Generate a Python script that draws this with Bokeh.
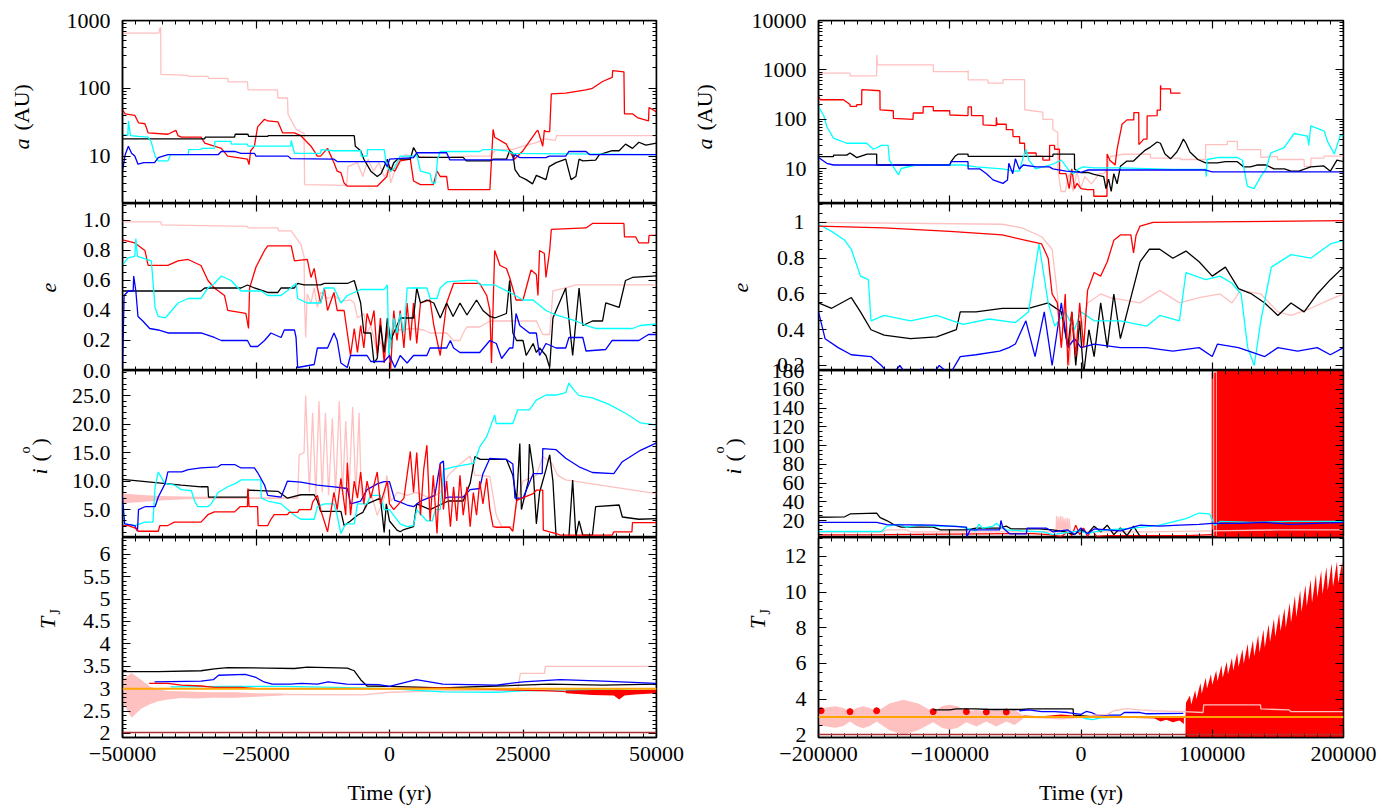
import math
from bokeh.plotting import figure
from bokeh.layouts import row, column
from bokeh.models import (Range1d, LinearAxis, LogAxis, FixedTicker, CustomJSTickFormatter, Span)
from bokeh.core.properties import value
from bokeh.embed import file_html
from bokeh.resources import INLINE

FONT = "Liberation Serif"
FS = "22px"
C = {"black": "#000000", "blue": "#0000ff", "cyan": "#00ffff", "red": "#ff0000", "pink": "#ffc0c0"}

# ---------------- LEFT COLUMN DATA (time in yr) ----------------
L_a_pink = [(-50000,650),(-43200,650),(-43000,780),(-42850,780),(-42800,160),(-37700,155),(-37600,150),(-34000,150),(-33900,140),(-30300,140),(-30200,124),(-26600,124),(-26500,95),(-21000,95),(-20900,72),(-19100,72),(-19000,41),(-17500,25),(-16300,22),(-16000,22),(-15900,3.8),(-8000,3.7),(-7800,7),(-6000,8),(-5000,5),(-4000,9),(-3000,6),(-2000,8),(-1000,5),(0,6),(200,4),(1500,8),(3000,10.5),(4500,10),(10000,9.5),(15000,10),(18800,10),(20000,12.5),(23100,12.6),(25000,14),(27500,15.8),(29000,18),(31000,17),(31300,20),(40000,20),(50000,20)]
L_a_red = [(-50000,48),(-49500,42),(-47700,40),(-47000,31),(-45800,30),(-45200,22),(-41500,21),(-40000,24),(-39600,20),(-39000,19),(-35300,19),(-34600,15.5),(-32800,14),(-31500,13),(-30300,10),(-26600,9),(-26300,7.5),(-26000,12),(-25300,14),(-24700,27),(-23400,35),(-22800,33),(-20900,32),(-20000,22),(-17800,22),(-16600,20),(-14700,14),(-13500,10),(-12900,10),(-11600,13),(-10400,8),(-9800,6),(-9100,5.7),(-8500,4),(-7900,3.6),(-2300,3.6),(-500,5),(-100,7),(1000,6),(2000,8.5),(3900,9),(4500,4.3),(5800,3.8),(8200,3.8),(8900,6),(9500,5),(10700,5),(11000,3.2),(18800,3.2),(19400,24.7),(19700,19),(21900,15),(23100,9.6),(23400,9),(25000,12),(27500,23),(27800,24),(28700,14),(29000,24),(29300,23),(30000,23),(30300,83),(33000,85),(36800,95),(38000,100),(39900,126),(41700,145),(41800,182),(43900,175),(44000,42),(45500,42),(46400,37),(48500,33),(48600,52),(50000,45)]
L_a_black = [(-50000,18),(-34600,18),(-34500,19),(-29000,19),(-28900,21),(-26500,21),(-26400,19.5),(-22800,19.5),(-22700,20),(-7000,20),(-6600,20),(-6400,14),(-5400,12),(-4800,9),(-3500,6),(-2300,5),(-1600,5.5),(-1000,7),(-400,9),(200,6),(800,8),(1500,9),(3900,9),(4500,13.4),(5100,11),(5500,9.6),(13800,9.6),(14400,8.5),(18800,8.5),(19500,9),(21900,9),(22500,12),(23100,11),(23500,6.3),(24400,5),(25600,4.5),(26800,3.9),(27500,5.2),(29300,4.5),(29900,7),(31200,8),(33000,9),(34000,4.5),(34900,5),(35500,9),(36200,8.5),(38600,8.7),(39300,10.5),(41700,12),(43000,12),(44200,15),(45500,13),(46700,16),(48000,14.5),(50000,15.5)]
L_a_cyan = [(-50000,21),(-49000,20),(-48900,33),(-48500,20),(-47000,19.5),(-45200,19),(-44600,16),(-43900,10),(-43300,8.5),(-41500,8.5),(-41000,10.5),(-37700,10.5),(-37600,12.5),(-35300,12.6),(-35200,13),(-32800,13),(-32700,16.5),(-29700,16.5),(-29600,15),(-26600,15),(-26500,14),(-22800,14),(-18500,14),(-18400,17),(-17800,11),(-15400,11),(-12900,11),(-12800,12.5),(-10400,12),(-5400,12),(-5300,10),(-4200,10),(-4100,12.5),(-1000,12.5),(-500,7),(200,6),(800,6.5),(1400,8),(2000,10),(4500,10),(5100,10.5),(5800,6),(7600,5.5),(8000,4),(8600,4),(9000,9),(9500,11.7),(16900,11.7),(17500,12.5),(19400,12.5),(21900,12),(23100,11),(50000,10.5)]
L_a_blue = [(-50000,6),(-49500,10.5),(-48900,14),(-48300,11),(-47700,10),(-47100,7.6),(-46000,8),(-44000,8),(-43300,9.5),(-41500,10.5),(-32100,10.5),(-31500,11.7),(-29000,11.7),(-27800,11),(-25300,11),(-25000,10),(-19000,10),(-18500,9.2),(-10400,9),(-9800,8.3),(-1000,8.3),(-400,7),(0,9),(4500,9.5),(5100,11.2),(10700,11.2),(11300,8.8),(23100,8.8),(23500,10.5),(24400,9.5),(29300,9.5),(29900,10),(33000,10),(33600,11.7),(36800,11.7),(37500,10.5),(50000,10.5)]

L_e_pink = [(-50000,0.99),(-42800,0.99),(-42700,0.97),(-26600,0.96),(-26500,0.95),(-20900,0.95),(-20800,0.93),(-18400,0.93),(-17800,0.9),(-16600,0.84),(-16000,0.76),(-15900,0.45),(-15700,0.22),(-15400,0.51),(-14700,0.45),(-14100,0.55),(-13500,0.42),(-12900,0.52),(-11600,0.48),(-10400,0.5),(-9000,0.46),(-7300,0.47),(-6600,0.45),(-6000,0.35),(-4800,0.38),(-4200,0.25),(-3500,0.3),(-2300,0.12),(-1700,0.2),(-1000,0.1),(-400,0.25),(200,0.15),(800,0.3),(1500,0.27),(4500,0.28),(6400,0.27),(7600,0.25),(10700,0.25),(12000,0.2),(13200,0.2),(13800,0.25),(14500,0.29),(16900,0.29),(18800,0.33),(25600,0.33),(27500,0.33),(28700,0.24),(30000,0.24),(30600,0.53),(33000,0.55),(34900,0.57),(50000,0.57)]
L_e_red = [(-50000,0.87),(-47700,0.85),(-45800,0.8),(-45200,0.7),(-41500,0.7),(-39600,0.73),(-37700,0.74),(-35300,0.7),(-34000,0.6),(-32800,0.55),(-30900,0.5),(-30300,0.4),(-26900,0.38),(-26400,0.28),(-26200,0.55),(-25000,0.69),(-23400,0.8),(-22800,0.83),(-18400,0.83),(-17800,0.73),(-15400,0.74),(-14700,0.62),(-14100,0.68),(-13500,0.55),(-12900,0.45),(-12200,0.55),(-11600,0.4),(-10400,0.52),(-9800,0.4),(-8500,0.4),(-7300,0.1),(-6600,0.28),(-6000,0.12),(-5400,0.3),(-4800,0.15),(-4200,0.38),(-3500,0.3),(-2900,0.4),(-2300,0.1),(-1700,0.35),(-1000,0.05),(-400,0.3),(200,0.0),(800,0.4),(1400,0.2),(2000,0.4),(2700,0.15),(3300,0.45),(3900,0.2),(4500,0.45),(5100,0.18),(5800,0.45),(7600,0.47),(8300,0.3),(9500,0.1),(10700,0.45),(12000,0.58),(16900,0.58),(18200,0.5),(18800,0.4),(19100,0.05),(19700,0.8),(20700,0.7),(21900,0.68),(22500,0.62),(23700,0.47),(25000,0.47),(25600,0.55),(26500,0.67),(27500,0.64),(27800,0.5),(28100,0.8),(29000,0.78),(29300,0.62),(30000,0.8),(30300,0.94),(36800,0.95),(38000,0.98),(43900,0.98),(44000,0.89),(46100,0.89),(46700,0.85),(48500,0.85),(48600,0.9),(50000,0.9)]
L_e_black = [(-50000,0.53),(-35300,0.53),(-34600,0.55),(-27800,0.55),(-26600,0.57),(-25300,0.55),(-22800,0.52),(-20900,0.52),(-20300,0.55),(-17800,0.55),(-17200,0.58),(-16000,0.57),(-12900,0.57),(-12200,0.58),(-7900,0.58),(-6600,0.6),(-5400,0.45),(-4800,0.25),(-3500,0.25),(-2900,0.05),(-2300,0.08),(-1700,0.3),(-1000,0.12),(-400,0.35),(200,0.2),(1400,0.3),(2000,0.35),(4500,0.35),(5100,0.55),(5800,0.45),(7000,0.47),(8300,0.45),(9500,0.35),(10700,0.45),(11900,0.36),(13200,0.45),(14500,0.37),(16300,0.47),(17500,0.4),(18800,0.36),(19700,0.35),(21900,0.38),(22500,0.6),(23100,0.25),(23800,0.2),(25000,0.2),(25600,0.1),(26900,0.18),(27500,0.12),(28100,0.15),(29300,0.1),(30000,0.02),(30600,0.35),(31800,0.45),(33000,0.55),(34300,0.1),(35500,0.55),(36200,0.3),(38000,0.33),(39900,0.33),(40500,0.45),(43000,0.42),(44200,0.6),(45500,0.62),(50000,0.63)]
L_e_cyan = [(-50000,0.7),(-49000,0.75),(-47700,0.76),(-47500,0.88),(-47200,0.76),(-44600,0.73),(-43900,0.42),(-43300,0.36),(-42000,0.35),(-41500,0.37),(-39600,0.45),(-37700,0.48),(-35300,0.48),(-34000,0.55),(-32800,0.58),(-31500,0.63),(-29700,0.6),(-27800,0.53),(-24000,0.53),(-22800,0.5),(-20300,0.5),(-18500,0.55),(-17500,0.58),(-17200,0.48),(-15400,0.45),(-12900,0.45),(-12200,0.55),(-10400,0.55),(-9100,0.45),(-7900,0.5),(-6600,0.52),(-5400,0.54),(-1000,0.54),(-400,0.57),(-100,0.1),(200,0.2),(800,0.35),(1400,0.25),(2000,0.38),(2700,0.25),(3300,0.55),(7000,0.55),(7600,0.48),(8900,0.48),(9500,0.55),(10700,0.59),(14500,0.6),(16300,0.6),(16900,0.57),(19700,0.57),(23100,0.51),(25000,0.47),(26900,0.47),(29300,0.4),(31200,0.37),(33000,0.35),(34900,0.33),(36800,0.3),(38600,0.28),(45500,0.28),(47000,0.3),(50000,0.31)]
L_e_blue = [(-50000,0.0),(-49700,0.5),(-48900,0.53),(-48000,0.53),(-47900,0.63),(-47500,0.53),(-47100,0.36),(-46200,0.33),(-44900,0.28),(-43300,0.27),(-41500,0.25),(-35300,0.25),(-32800,0.22),(-31500,0.2),(-26600,0.2),(-26000,0.16),(-24700,0.16),(-23400,0.2),(-22200,0.25),(-20300,0.22),(-19700,0.27),(-17800,0.27),(-17500,0.22),(-17200,0.02),(-14100,0.04),(-13500,0.15),(-11600,0.15),(-10400,0.25),(-9800,0.2),(-9100,0.05),(-7900,0.02),(-7300,0.1),(-4200,0.1),(-3500,0.06),(-1000,0.06),(0,0.1),(1000,0.02),(2000,0.1),(3300,0.05),(4500,0.1),(7000,0.1),(7600,0.15),(10700,0.15),(11400,0.2),(12000,0.15),(13200,0.12),(16900,0.12),(18800,0.2),(20000,0.18),(21000,0.08),(22500,0.15),(23100,0.15),(23700,0.38),(24400,0.3),(26200,0.25),(27500,0.25),(28100,0.1),(29300,0.18),(31200,0.15),(33000,0.15),(33600,0.22),(36200,0.22),(36800,0.13),(40500,0.14),(41700,0.2),(46700,0.2),(48500,0.24),(50000,0.24)]

L_i_pink_band_t = [-50000, -47000, -43000, -38000, -30000, -24000, -17200]
L_i_pink_band_hi = [7.8, 7.6, 7.4, 7.3, 7.2, 7.1, 7.1]
L_i_pink_band_lo = [6.1, 6.3, 6.6, 6.8, 6.9, 6.9, 6.95]
L_i_pink = [(-50000,7),(-17200,7),(-16900,14.6),(-16000,15),(-15700,25),(-15000,8),(-14400,22),(-13800,7.5),(-13200,24),(-12600,8),(-12000,22),(-11400,7.5),(-10700,21),(-10100,8),(-9400,24),(-8800,7.5),(-8200,20.5),(-7600,8),(-6900,23),(-6300,7.5),(-5700,22),(-5300,8),(-4500,5),(-3500,8),(-2300,4),(-1000,7),(-500,11),(300,6.5),(1500,8),(3300,7.5),(5000,8),(7600,7),(9500,8),(11000,11),(13200,13),(15100,14.4),(16000,11),(17000,11),(18800,10.8),(20000,4),(21000,2),(23100,2),(23800,6),(25000,10),(27500,11),(28700,14.3),(30500,13),(31500,11),(33000,10.2),(50000,7.8)]
L_i_red = [(-50000,2.2),(-48900,2.2),(-47700,1.8),(-47000,1.2),(-43300,1.2),(-43000,2.2),(-41500,2.2),(-40300,2.8),(-35300,2.8),(-34000,4.1),(-32800,4.6),(-29000,4.6),(-28000,5.5),(-26600,5.5),(-26500,8.7),(-26300,5.5),(-24700,5.5),(-24600,2.2),(-22800,2.2),(-22200,3.3),(-21600,4.1),(-19100,4.1),(-18800,4.5),(-17200,4.5),(-16900,5),(-14700,5),(-14400,6.3),(-13500,7.5),(-12900,5),(-11600,1.1),(-10400,8),(-9800,5),(-9100,10.5),(-8200,4),(-7900,13.2),(-7300,4),(-6600,10),(-6000,7),(-5400,11.6),(-4800,6),(-4200,10),(-3500,7),(-2300,11.6),(-1700,6),(-400,10),(0,6),(800,5),(2700,7),(3900,15.2),(4500,8),(5100,15),(5800,4),(6400,12),(7000,16.3),(7600,3),(8200,11),(8900,0.8),(9500,13),(10100,5),(10700,10),(11400,2),(12000,9),(12600,3),(13200,11),(13800,4),(14500,9),(15100,2),(15700,8),(16300,4),(16900,10),(17500,6),(18200,10.5),(18800,5),(19400,2),(20000,1.9),(22500,1.9),(23100,1.2),(23800,6.6),(26900,7.8),(27500,8.4),(28700,8.4),(28800,1.4),(31200,0.8),(32000,0.5),(41700,0.5),(42000,1.1),(45400,1.1),(45500,2.7),(50000,2.7)]
L_i_black = [(-50000,10.3),(-39000,9.3),(-35300,9),(-34000,9),(-33900,7.2),(-26600,7.2),(-26500,8.4),(-20900,8.2),(-19100,7),(-16600,7.6),(-14100,7.6),(-13500,6.5),(-12900,4.7),(-9100,4.7),(-8500,2.2),(-7300,3),(-6000,4),(-5000,4.5),(-4200,6),(-1700,7),(-1000,1),(-600,6),(0,3),(1400,1.4),(2000,1.1),(2700,1.5),(4500,2),(5100,6),(7600,5),(11000,6.5),(13800,6.5),(15100,9.6),(16000,14.3),(17000,13.8),(21900,13.8),(23100,11),(23800,6.5),(24400,16.6),(24700,5),(26000,10),(26200,16.5),(26900,12),(27500,2.5),(28100,8),(29300,12),(30000,14.6),(30600,10),(31200,0.2),(33600,0.3),(34300,10.2),(34900,0.3),(35500,3),(36200,0.5),(38000,0.5),(38600,5.5),(43000,5.8),(43600,3.7),(46700,3.3),(50000,3.4)]
L_i_cyan = [(-50000,6),(-49600,2.5),(-47700,2.2),(-45800,2.8),(-44300,2.8),(-43900,9),(-43300,11.6),(-42100,9.6),(-40300,9.3),(-39000,8.5),(-37100,8.3),(-36500,6.5),(-35900,5.5),(-34000,5.5),(-33400,6),(-32100,8),(-30300,9),(-29000,9.5),(-27800,10.2),(-24100,10.2),(-24000,7),(-22800,6.5),(-20300,6),(-17800,4),(-16600,3.3),(-14100,3.3),(-13500,5.5),(-12200,6),(-10400,6),(-9800,4),(-9100,0.8),(-8200,2.5),(-6600,2.5),(-6000,6),(-4200,6),(-3500,7.5),(-1700,7.5),(-1000,5),(0,5),(800,4),(2000,2.5),(3300,2),(4500,2.2),(5100,5),(7000,3),(8000,3),(8600,5),(9500,5),(10100,12),(12000,12.5),(15700,13.1),(16300,14.3),(16900,16),(18200,17.8),(19700,21.6),(20000,20.1),(23100,20.1),(24000,22.5),(26200,22.5),(27500,24.2),(29300,25.1),(31200,25.1),(33000,25.5),(33600,27.2),(34500,26),(35500,25),(38000,24.6),(41000,23.5),(44200,21.9),(47000,20.2),(50000,19.8)]
L_i_blue = [(-50000,7.2),(-49600,2.5),(-47700,2.2),(-47200,1.2),(-47000,5),(-45800,5.5),(-43900,5.5),(-43300,7.2),(-42000,9.6),(-41500,11.6),(-38900,11.6),(-37700,12),(-35300,12.3),(-32100,12.5),(-31500,12.9),(-29000,12.9),(-27800,12.3),(-25300,12.3),(-24700,11.5),(-23400,9.3),(-22800,7.5),(-20300,7.2),(-19100,10),(-16600,9.8),(-13500,9.3),(-10400,9),(-7900,8.7),(-7300,6),(-5400,6.5),(-4200,8.5),(-2300,9.5),(-1000,9.9),(0,9.9),(1000,6.6),(2000,6.3),(3300,5.8),(4500,5.5),(5800,6.5),(8500,7.5),(9500,13.1),(10100,13.5),(10400,7),(11000,7.2),(13800,7.2),(15100,8.5),(16900,8.7),(17500,11.3),(18800,14),(21900,13.8),(23100,13),(23500,7),(25000,7),(26900,11.3),(28600,11.3),(28700,15.7),(31200,15.5),(33000,14),(35500,12.5),(38000,11.5),(42000,11.3),(43600,13.4),(47000,15.4),(50000,16.7)]

L_t_pink_band_t = [-50000, -48300, -46500, -44900, -43300, -41500, -39000, -36500, -33000, -29000, -25000, -20000]
L_t_pink_band_hi = [3.2, 3.35, 3.2, 3.05, 2.98, 2.95, 2.94, 2.93, 2.92, 2.92, 2.9, 2.89]
L_t_pink_band_lo = [2.7, 2.35, 2.55, 2.65, 2.72, 2.76, 2.79, 2.78, 2.8, 2.8, 2.82, 2.85]
L_t_pink = [(-20000,2.87),(-5000,2.86),(0,2.92),(10000,2.95),(20000,2.97),(24000,2.98),(24500,3.34),(29000,3.34),(29200,3.5),(50000,3.5)]
L_t_black = [(-50000,3.38),(-43300,3.38),(-35300,3.4),(-32800,3.44),(-30300,3.47),(-22800,3.46),(-17800,3.45),(-15400,3.48),(-7900,3.46),(-6600,3.4),(-5400,3.2),(-4200,3.06),(0,3.05),(10000,3.02),(20000,3.06),(30000,3.1),(40000,3.08),(50000,3.1)]
L_t_blue = [(-44000,3.15),(-35300,3.17),(-33000,3.2),(-32000,3.3),(-27000,3.32),(-25000,3.25),(-23500,3.15),(-22000,3.1),(-18500,3.1),(-16500,3.12),(-13500,3.1),(-11500,3.15),(-8000,3.1),(-2000,3.09),(0,3.05),(5000,3.2),(10000,3.1),(20000,3.08),(25000,3.15),(32000,3.2),(40000,3.17),(50000,3.12)]
L_t_cyan = [(-41000,3.04),(-30000,3.05),(-20000,3.05),(-10000,3.03),(0,3.0),(10000,2.93),(20000,2.92),(25000,2.95),(35000,2.98),(50000,3.0)]
L_t_red = [(-45000,3.12),(-41500,3.12),(-39000,3.08),(-35300,3.06),(-32800,3.03),(-27800,3.03),(-25000,3.0),(0,3.0),(10000,3.02),(20000,2.98),(30000,2.95),(40000,2.9),(50000,2.95)]
L_t_red_band_t = [33000, 38000, 42000, 43000, 44000, 46000, 50000]
L_t_red_band_hi = [2.97, 2.97, 2.98, 2.99, 2.97, 2.97, 2.98]
L_t_red_band_lo = [2.9, 2.86, 2.85, 2.76, 2.85, 2.87, 2.9]

# ---------------- RIGHT COLUMN DATA ----------------
R_a_pink = [(-200000,860),(-176000,860),(-175900,760),(-155700,760),(-155600,2000),(-155000,1270),(-112600,1270),(-112500,930),(-86100,930),(-86000,1000),(-85900,630),(-70900,630),(-70800,540),(-59500,540),(-59400,640),(-43000,640),(-42900,157),(-29100,140),(-29000,100),(-21500,100),(-21400,62),(-17700,55),(-17600,9.5),(-15200,3.5),(-12000,3.5),(-9000,8),(-6000,3.5),(-3000,9),(-500,4),(3000,7),(8000,5),(14000,8),(17300,8),(20000,10),(22400,18),(32600,19.8),(52900,19.8),(53000,16.6),(75800,16.6),(75900,15.5),(94900,15.5),(95000,31),(111400,31),(111500,36),(119100,36),(119200,24.6),(136900,24.6),(137000,17),(149600,18),(149700,15.5),(170000,15.5),(170100,11.3),(175100,11.3),(175200,16.6),(185200,16.6),(185300,18.2),(200000,18.2)]
R_a_red = [(-200000,290),(-198500,250),(-181000,250),(-176000,200),(-175900,183),(-170900,183),(-170800,200),(-167100,200),(-167000,400),(-153200,380),(-153100,156),(-143000,150),(-142900,105),(-128000,100),(-127800,135),(-120300,135),(-120200,182),(-112600,182),(-112500,150),(-100000,150),(-99900,123),(-86100,120),(-86000,180),(-83500,180),(-83400,120),(-74700,120),(-74600,78),(-64600,75),(-64500,110),(-64000,80),(-57000,80),(-56900,62),(-51900,62),(-51800,45),(-46800,45),(-46700,33),(-43000,33),(-42900,21),(-34200,21),(-34100,18),(-29100,18),(-29000,15),(-24000,15),(-23900,30),(-20200,30),(-20100,25),(-16400,25),(-16300,8),(-11400,8),(-9000,4),(-7000,10),(-5000,4),(-3000,5.1),(0,4),(5000,3.8),(9700,3.8),(9800,2.8),(19800,2.8),(19900,20),(22000,15),(26000,12),(27500,25),(31300,80),(35000,98),(40200,98),(40300,138),(44000,138),(44100,31),(47800,40),(50300,40),(50400,118),(58000,120),(58100,155),(60500,155),(60600,490),(61000,415),(68200,415),(68300,340),(75800,340)]
R_a_black = [(-200000,17.8),(-188600,17.8),(-188500,19),(-178500,19),(-176000,21),(-173500,19),(-171000,17),(-163000,20),(-155700,20),(-155600,12),(-99900,12),(-99000,14),(-96000,18),(-93500,20),(-86100,20),(-86000,18),(-21400,18),(-21300,20),(-5000,20),(-4900,10),(-2500,9),(-500,8.4),(5000,8.5),(10000,7.8),(17300,7),(19000,4),(21000,6.2),(23000,3.5),(25000,8),(27500,5),(30000,11.3),(35000,14.4),(40000,14.4),(45000,19.4),(49000,24),(52900,27.6),(58000,35),(60500,33),(64000,20),(68200,16),(73000,22),(75800,30),(78000,40),(80000,33),(83000,22),(89000,15.5),(95000,13.2),(104000,13.2),(110000,14),(119100,14),(124000,11),(129000,11),(134000,12),(141000,12),(147000,10),(155000,10),(160000,9),(166000,9),(175000,11),(185000,11.5),(190000,9),(195000,15),(200000,14)]
R_a_cyan = [(-200000,182),(-196000,120),(-193700,72),(-188600,42),(-178500,33),(-163300,33),(-158200,25),(-151900,30),(-147000,30),(-146000,15),(-142000,10),(-139000,7.6),(-137000,10.2),(-125700,12),(-90000,12),(-80000,11),(-60000,10),(-50000,9),(-47000,9),(-44700,15),(-42000,25),(-39700,15),(-34600,10),(-24000,12),(-20000,13),(-15000,15),(-10000,10),(-6000,8),(-2000,10),(2000,11),(10000,10.5),(30000,10.5),(70000,9.8),(94900,9.8),(95500,7),(96000,15.5),(104000,17),(119000,17),(123000,15),(126700,4.5),(131800,4),(136900,7),(141000,10),(144500,21),(154700,27),(162400,52),(172500,46),(173500,30),(175100,74),(185300,58),(187800,36),(193000,20),(197500,47),(200000,47)]
R_a_blue = [(-200000,17),(-193700,13),(-188600,12),(-100000,12),(-99000,14),(-86100,14),(-86000,10),(-77000,10),(-72000,8),(-67000,6),(-59500,5.1),(-56000,6),(-55000,13),(-52000,8),(-50000,16),(-47000,10),(-44000,12),(-34000,11),(-24000,11),(-21500,10),(-11400,9),(0,8.5),(5000,9.5),(95000,9.5),(100000,8.7),(200000,8.7)]

R_e_pink = [(-200000,1.0),(-60000,0.99),(-45000,0.97),(-30000,0.92),(-22000,0.85),(-18000,0.6),(-15000,0.3),(-12000,0.55),(-9000,0.2),(-6000,0.45),(-3000,0.25),(0,0.4),(5000,0.55),(15000,0.6),(22000,0.58),(30000,0.57),(45000,0.55),(60000,0.62),(75000,0.55),(90000,0.58),(106000,0.6),(115000,0.55),(121500,0.62),(137000,0.6),(150000,0.5),(160000,0.48),(175000,0.52),(190000,0.57),(200000,0.6)]
R_e_red = [(-200000,0.98),(-150000,0.97),(-100000,0.95),(-60000,0.93),(-42000,0.9),(-30000,0.88),(-25000,0.8),(-22000,0.6),(-18000,0.55),(-15000,0.3),(-12000,0.6),(-10000,0.2),(-7000,0.5),(-4000,0.25),(-1000,0.55),(2000,0.3),(5000,0.62),(10000,0.72),(15000,0.7),(20000,0.78),(25000,0.9),(30000,0.93),(38000,0.93),(40000,0.83),(42000,0.93),(45000,0.98),(55000,1.0),(200000,1.01)]
R_e_black = [(-200000,0.55),(-190000,0.52),(-175000,0.58),(-168000,0.5),(-160000,0.4),(-150000,0.37),(-130000,0.35),(-110000,0.36),(-95000,0.4),(-92000,0.5),(-80000,0.5),(-60000,0.52),(-40000,0.52),(-25000,0.55),(-15000,0.5),(-10000,0.3),(-7000,0.5),(-4000,0.2),(-1000,0.45),(2000,0.15),(6000,0.4),(10000,0.25),(15000,0.55),(20000,0.3),(25000,0.6),(30000,0.35),(38000,0.58),(45000,0.78),(52000,0.85),(60000,0.85),(70000,0.8),(80000,0.84),(90000,0.78),(100000,0.7),(110000,0.75),(120000,0.63),(130000,0.6),(140000,0.55),(150000,0.48),(160000,0.55),(170000,0.5),(180000,0.6),(190000,0.68),(200000,0.75)]
R_e_cyan = [(-200000,0.99),(-190000,0.95),(-180000,0.9),(-175000,0.85),(-168000,0.7),(-162000,0.68),(-160000,0.45),(-150000,0.48),(-130000,0.45),(-110000,0.48),(-90000,0.43),(-70000,0.46),(-50000,0.44),(-40000,0.5),(-32000,0.88),(-25000,0.55),(-20000,0.42),(-12000,0.5),(-5000,0.4),(0,0.5),(10000,0.45),(30000,0.45),(50000,0.42),(60000,0.48),(75000,0.45),(80000,0.72),(95000,0.68),(106000,0.7),(115000,0.66),(122000,0.6),(127000,0.3),(132000,0.2),(137000,0.45),(145000,0.75),(160000,0.82),(175000,0.8),(190000,0.88),(200000,0.9)]
R_e_blue = [(-200000,0.5),(-195000,0.35),(-185000,0.3),(-175000,0.26),(-160000,0.25),(-152000,0.2),(-145000,0.14),(-138000,0.2),(-130000,0.12),(-122000,0.18),(-115000,0.13),(-108000,0.2),(-100000,0.15),(-92000,0.25),(-80000,0.26),(-62000,0.28),(-55000,0.3),(-50000,0.32),(-42000,0.45),(-35000,0.25),(-28000,0.5),(-22000,0.2),(-15000,0.55),(-10000,0.3),(-5000,0.35),(0,0.3),(10000,0.32),(30000,0.3),(50000,0.3),(70000,0.28),(90000,0.3),(100000,0.25),(104000,0.32),(120000,0.3),(140000,0.25),(150000,0.3),(165000,0.28),(180000,0.3),(190000,0.26),(200000,0.3)]

R_i_red_band_t = [103500, 200000]
R_i_red_spikes_t = [100000, 101500, 102600]
R_i_red = [(-200000,4.8),(-150000,5),(-100000,5.5),(-50000,6),(-36700,6),(-25000,5),(-15000,3),(-10000,8),(-7000,4),(-4000,15),(-1000,5),(2000,12),(5000,3),(8000,10),(12000,3),(20000,4),(50000,4),(80000,4),(100000,5)]
R_i_black = [(-200000,23.5),(-180000,24),(-175900,27),(-155700,28),(-153000,23),(-148000,20),(-143000,16),(-137000,13),(-112600,13),(-107000,10),(-87000,10),(-80000,12),(-62000,12),(-57000,14),(-53000,11),(-32000,11),(-21500,10),(-12000,8),(-5000,5),(0,10),(5000,6),(10000,14),(15000,8),(20000,15),(25000,5),(30000,12),(35000,4),(40000,14),(45000,3)]
R_i_blue = [(-200000,18),(-155700,18),(-148000,15.7),(-112600,15),(-87300,13),(-87000,2.3),(-84500,10),(-62000,10),(-61000,20),(-59500,12),(-54400,5.8),(-41700,5.8),(-41000,12),(-26500,12),(-21500,8),(-10000,10),(-5000,5),(0,12),(5000,6),(10000,11),(20000,10),(30000,9),(45000,15),(60000,14),(75000,15),(90000,16),(100000,17),(120000,17),(140000,18),(160000,16),(180000,17),(200000,18)]
R_i_cyan = [(-200000,8.3),(-151900,8.3),(-148100,14),(-138000,16),(-133000,13),(-122900,15),(-112600,14),(-95000,14),(-87300,12),(-80000,9),(-78000,16),(-75000,12),(-67000,14),(-64500,17),(-62000,14),(-56900,10),(-44300,9),(-29000,8),(-21500,5),(-11400,7),(-1000,9),(5000,6),(10000,8),(20000,10),(40000,12),(60000,15),(80000,22),(90000,28),(98000,27),(102000,15),(106000,19),(130000,18),(160000,19),(200000,19)]
R_i_pink = [(-200000,7.6),(-151900,7.6),(-148000,10),(-133000,10),(-130000,8),(-19000,8),(-18600,25),(-17800,6),(-17000,24),(-16200,6),(-15400,25),(-14600,6),(-13800,24),(-13000,6),(-12200,22),(-11400,6),(-10600,23),(-9800,6),(-9000,22),(-8000,8),(0,8),(50000,8),(100000,9),(150000,10),(200000,10)]

R_t_pink_band_t = [-200000, -193000, -187000, -181000, -176000, -171000, -166000, -161000, -155700, -146000, -135400, -124000, -112600, -106000, -100000, -94000, -87300, -79700, -72100, -64500, -56900, -50600, -44300]
R_t_pink_band_hi = [3.45, 3.55, 3.6, 3.5, 3.3, 3.5, 3.6, 3.5, 3.3, 3.75, 3.96, 3.75, 3.3, 3.6, 3.68, 3.6, 3.3, 3.4, 3.3, 3.4, 3.3, 3.4, 3.1]
R_t_pink_band_lo = [2.55, 2.45, 2.4, 2.5, 2.75, 2.5, 2.37, 2.5, 2.75, 2.25, 2.0, 2.25, 2.7, 2.4, 2.28, 2.4, 2.7, 2.46, 2.75, 2.46, 2.75, 2.55, 2.9]
R_t_red_dots = [(-198000,3.35),(-176000,3.3),(-155700,3.35),(-112600,3.3),(-87300,3.3),(-72100,3.28),(-56900,3.28)]
R_t_pink = [(-44000,3.0),(-30000,2.95),(-15000,2.9),(-5000,2.95),(0,3.0),(10000,3.1),(20000,3.15),(25000,3.35),(35000,3.47),(45000,3.4),(55000,3.35),(78000,3.3),(93000,3.25),(93500,3.68),(136800,3.68),(137000,3.45),(158300,3.4),(160000,3.3),(200000,3.3)]
R_t_black = [(-112600,3.4),(-100000,3.4),(-95000,3.45),(-80000,3.45),(-70000,3.42),(-45000,3.42),(-40000,3.45),(-25000,3.46),(-15000,3.45),(-6000,3.45),(-5700,3.1),(0,3.07),(10000,3.05),(20000,3.03)]
R_t_blue = [(-47000,3.35),(-40000,3.4),(-30000,3.3),(-20000,3.3),(-10000,3.25),(0,3.15),(4000,3.31),(8000,3.25),(12000,3.1),(30000,3.1),(33000,3.25),(45000,3.25),(50000,3.18),(78000,3.2)]
R_t_cyan = [(-45000,3.0),(-20000,3.02),(0,3.0),(4000,2.9),(9000,2.85),(15000,2.95),(30000,3.0),(50000,3.0),(78000,3.02)]
R_t_red = [(-44000,3.05),(-30000,3.0),(-15000,3.1),(0,3.0),(30000,3.0),(60000,2.95),(79000,3.0)]
R_t_red_dip_t = [55000, 60600, 65000, 70000, 75000, 78400]
R_t_red_dip_lo = [2.95, 2.75, 2.85, 2.7, 2.8, 2.6]
R_t_red_band = [(79600,3.0),(80000,3.8),(83000,4.2),(84000,3.7),(87000,4.5),(88000,4.0),(91000,4.9),(92000,4.3),(95000,5.2),(96000,4.6),(99000,5.4),(100000,4.8),(103000,5.6),(104000,5.0),(107000,5.9),(108000,5.2),(111000,6.1),(112000,5.4),(115000,6.3),(116000,5.6),(119000,6.6),(120000,5.8),(123000,6.8),(124000,6.0),(127000,7.1),(128000,6.2),(131000,7.3),(132000,6.4),(135000,7.6),(136000,6.6),(139000,7.9),(140000,6.9),(143000,8.2),(144000,7.2),(147000,8.5),(148000,7.5),(151000,8.8),(152000,7.8),(155000,9.1),(156000,8.0),(159000,9.4),(160000,8.3),(163000,9.8),(164000,8.6),(167000,10.1),(168000,8.9),(171000,10.4),(172000,9.2),(175000,10.7),(176000,9.4),(179000,11.0),(180000,9.7),(183000,11.2),(184000,9.9),(187000,11.4),(188000,10.1),(191000,11.6),(192000,10.3),(195000,11.7),(196000,10.5),(199000,11.7),(200000,10.5)]

TJ_REF_ORANGE = 3.0
TJ_REF_DARK = 2.02

# ---------------- helpers ----------------
def split(pairs):
    return [p[0] for p in pairs], [p[1] for p in pairs]

EMPTY = "return ''"
PLAIN = "return String(tick).replace('-', '\u2212')"
ONEDEC = "return tick.toFixed(1)"

def style_axis(ax, fmt):
    ax.major_tick_in = 8
    ax.major_tick_out = 0
    ax.minor_tick_in = 4
    ax.minor_tick_out = 0
    ax.axis_line_width = 1.5
    ax.major_tick_line_width = 1.2
    ax.minor_tick_line_width = 1
    ax.major_label_text_font = FONT
    ax.major_label_text_font_size = FS
    ax.major_label_text_color = "black"
    ax.formatter = CustomJSTickFormatter(code=fmt)

def label_only(ax, fmt, standoff):
    style_axis(ax, fmt)
    ax.axis_line_color = None
    ax.major_tick_line_color = None
    ax.minor_tick_line_color = None
    ax.major_label_standoff = standoff

def make_panel(xr, yr, ylog, width, height, bl, br, bt, bb, xt, xm, yt, ym, yfmt, own_left, own_bottom):
    p = figure(width=width, height=height, x_range=Range1d(*xr), y_range=Range1d(*yr),
               y_axis_type="log" if ylog else "linear",
               x_axis_location=None, y_axis_location=None,
               toolbar_location=None, output_backend="svg",
               min_border_left=bl, min_border_right=br, min_border_top=bt, min_border_bottom=bb)
    p.grid.visible = False
    p.outline_line_color = "black"
    p.outline_line_width = 1.5
    p.background_fill_color = "white"
    p.border_fill_color = "white"
    if own_bottom:
        ax = LinearAxis(ticker=FixedTicker(ticks=xt, minor_ticks=xm))
        style_axis(ax, PLAIN)
        ax.major_label_standoff = 9
    else:
        ax = LinearAxis(ticker=FixedTicker(ticks=xt, minor_ticks=xm), fixed_location=yr[0])
        style_axis(ax, EMPTY)
    p.add_layout(ax, "below")
    ax = LinearAxis(ticker=FixedTicker(ticks=xt, minor_ticks=xm), fixed_location=yr[1])
    style_axis(ax, EMPTY)
    p.add_layout(ax, "above")
    cls = LogAxis if ylog else LinearAxis
    if own_left:
        ax = cls(ticker=FixedTicker(ticks=yt, minor_ticks=ym))
        style_axis(ax, yfmt)
        ax.major_label_standoff = 12
    else:
        ax = cls(ticker=FixedTicker(ticks=yt, minor_ticks=ym), fixed_location=xr[0])
        style_axis(ax, EMPTY)
    p.add_layout(ax, "left")
    ax = cls(ticker=FixedTicker(ticks=yt, minor_ticks=ym), fixed_location=xr[1])
    style_axis(ax, EMPTY)
    p.add_layout(ax, "right")
    return p

def draw(p, pairs, color, lw=1.3):
    x, y = split(pairs)
    p.line(x, y, line_color=color, line_width=lw)

def text_fig(width, height, x_range=None, y_range=None):
    p = figure(width=width, height=height,
               x_range=x_range or Range1d(0, width), y_range=y_range or Range1d(0, height),
               x_axis_location=None, y_axis_location=None, toolbar_location=None,
               output_backend="svg", min_border=0)
    p.grid.visible = False
    p.outline_line_color = None
    p.background_fill_color = "white"
    p.border_fill_color = "white"
    return p

def vtexts(p, items, base):
    for text, x, y, size, style, align in items:
        p.text(x=[x], y=[base + y], text=[text], angle=math.pi / 2, text_font=value(FONT),
               text_font_size=value(f"{size}px"), text_font_style=value(style),
               text_align=value(align), text_baseline=value("middle"), text_color="black")

# ---------------- ticks / layout ----------------
LX_T = [-50000, -25000, 0, 25000, 50000]
LX_M = [v for v in range(-50000, 50001, 2500)]
RX_T = [-200000, -100000, 0, 100000, 200000]
RX_M = [v for v in range(-200000, 200001, 10000)]
LOG_MINOR = [m * 10 ** k for k in range(0, 4) for m in range(2, 10)]

TOP = 20
H = {"a": 183, "e": 167, "i": 167, "t": 200}
T_BOTTOM = 36
STRIP_H = 805 - (TOP + H["a"] + H["e"] + H["i"] + H["t"] + T_BOTTOM)

L_spec = dict(a_range=(2, 1000), a_ticks=[10, 100, 1000], a_minor=LOG_MINOR, a_fmt=PLAIN,
              e_range=(0, 1.113), e_ticks=[0, 0.2, 0.4, 0.6, 0.8, 1.0],
              e_minor=[round(0.05 * k, 2) for k in range(0, 23)], e_fmt=ONEDEC,
              i_range=(0.1, 29.4), i_ticks=[5, 10, 15, 20, 25],
              i_minor=list(range(1, 30)), i_fmt=ONEDEC,
              t_range=(1.91, 6.375), t_ticks=[2, 2.5, 3, 3.5, 4, 4.5, 5, 5.5, 6],
              t_minor=[round(2 + 0.1 * k, 1) for k in range(0, 45)], t_fmt=PLAIN,
              bl={"a": 60, "ei": 4, "t": 44})
R_spec = dict(a_range=(2, 10000), a_ticks=[10, 100, 1000, 10000], a_minor=LOG_MINOR, a_fmt=PLAIN,
              e_range=(0.172, 1.106), e_ticks=[0.2, 0.4, 0.6, 0.8, 1],
              e_minor=[round(0.05 * k, 2) for k in range(4, 23)], e_fmt=PLAIN,
              i_range=(1.9, 180), i_ticks=[20, 40, 60, 80, 100, 120, 140, 160, 180],
              i_minor=list(range(5, 181, 5)), i_fmt=PLAIN,
              t_range=(1.85, 13.06), t_ticks=[2, 4, 6, 8, 10, 12],
              t_minor=[round(2 + 0.5 * k, 1) for k in range(0, 23)], t_fmt=PLAIN,
              bl={"a": 70, "ei": 4, "t": 44})

def lab_items(xa, xe, xi, xo, xt, xj):
    return {
        "a": [("a", xa, 60, 22, "italic", "left"), ("(AU)", xa, 81, 22, "normal", "left")],
        "e": [("e", xe, 83, 22, "italic", "center")],
        "i": [("i", xi, 63, 22, "italic", "left"), ("(", xi, 76, 22, "normal", "left"),
              ("o", xo, 84, 14, "normal", "left"), (")", xi, 92, 22, "normal", "left")],
        "t": [("T", xt, 92, 22, "italic", "left"), ("J", xj, 109, 14, "normal", "left")],
    }

def build_column(xr, xt, xm, fr_w, br, spec, margin, tick_right, items):
    bl = spec["bl"]
    def panel(k, h, b_left, bt, bb, own_left, own_bottom):
        return make_panel(xr, spec[k + "_range"], k == "a", b_left + fr_w + br, h, b_left, br, bt, bb,
                          xt, xm, spec[k + "_ticks"], spec[k + "_minor"], spec[k + "_fmt"],
                          own_left, own_bottom)
    pa = panel("a", TOP + H["a"], bl["a"], TOP, 0, True, False)
    pe = panel("e", H["e"], bl["ei"], 0, 0, False, False)
    pi = panel("i", H["i"], bl["ei"], 0, 0, False, False)
    pt = panel("t", H["t"] + T_BOTTOM, bl["t"], 0, T_BOTTOM, True, True)

    # title for a
    fa = text_fig(margin - bl["a"], TOP + H["a"])
    vtexts(fa, items["a"], 0)
    # e and i tick labels + titles, sharing one canvas so boundary labels are whole
    hei = H["e"] + H["i"]
    fei = text_fig(margin - bl["ei"], hei)
    rng = {}
    for k, p0, p1 in (("e", H["i"], hei), ("i", 0, H["i"])):
        s, e = spec[k + "_range"]
        rng[k] = Range1d(s - (e - s) * p0 / (p1 - p0), e + (e - s) * (hei - p1) / (p1 - p0))
    fei.extra_y_ranges = rng
    for k in ("e", "i"):
        ax = LinearAxis(y_range_name=k, ticker=FixedTicker(ticks=spec[k + "_ticks"], minor_ticks=[]),
                        fixed_location=tick_right + 6)
        label_only(ax, spec[k + "_fmt"], 6)
        fei.add_layout(ax, "left")
    vtexts(fei, items["e"], H["i"])
    vtexts(fei, items["i"], 0)
    # title for T
    ft = text_fig(margin - bl["t"], H["t"] + T_BOTTOM)
    vtexts(ft, items["t"], T_BOTTOM)

    width = margin + fr_w + br
    span = xr[1] - xr[0]
    srange = Range1d(xr[0] - span * margin / fr_w, xr[1] + span * br / fr_w)
    st = text_fig(width, STRIP_H, x_range=srange)
    st.text(x=[(xr[0] + xr[1]) / 2], y=[13], text=["Time (yr)"], text_font=value(FONT),
            text_font_size=value(FS), text_align=value("center"), text_baseline=value("middle"),
            text_color="black")
    col = column(row(fa, pa), row(fei, column(pe, pi)), row(ft, pt), st)
    return col, {"a": pa, "e": pe, "i": pi, "t": pt}

colL, L = build_column((-50000, 50000), LX_T, LX_M, 534, 34, L_spec, 122, 110,
                       lab_items(21, 48, 39, 25, 47, 55))
colR, R = build_column((-200000, 200000), RX_T, RX_M, 525, 40, R_spec, 128, 114,
                       lab_items(14, 50, 43, 29, 67, 75))
la, le, li, lt = L["a"], L["e"], L["i"], L["t"]
ra, re, ri, rt = R["a"], R["e"], R["i"], R["t"]

# ---------------- left drawing ----------------
for p, series in ((la, [L_a_pink, L_a_red, L_a_black, L_a_cyan, L_a_blue]),
                  (le, [L_e_pink, L_e_red, L_e_black, L_e_cyan, L_e_blue])):
    for s, c in zip(series, ["pink", "red", "black", "cyan", "blue"]):
        draw(p, s, C[c])

li.varea(x=L_i_pink_band_t, y1=L_i_pink_band_lo, y2=L_i_pink_band_hi, fill_color=C["pink"])
for s, c in zip([L_i_pink, L_i_black, L_i_cyan, L_i_blue, L_i_red], ["pink", "black", "cyan", "blue", "red"]):
    draw(li, s, C[c])

lt.varea(x=L_t_pink_band_t, y1=L_t_pink_band_lo, y2=L_t_pink_band_hi, fill_color=C["pink"])
lt.varea(x=L_t_red_band_t, y1=L_t_red_band_lo, y2=L_t_red_band_hi, fill_color=C["red"])
for s, c in zip([L_t_pink, L_t_black, L_t_blue, L_t_cyan, L_t_red], ["pink", "black", "blue", "cyan", "red"]):
    draw(lt, s, C[c])

# ---------------- right drawing ----------------
for s, c in zip([R_a_pink, R_a_red, R_a_black, R_a_cyan, R_a_blue], ["pink", "red", "black", "cyan", "blue"]):
    draw(ra, s, C[c])
for s, c in zip([R_e_pink, R_e_black, R_e_cyan, R_e_blue, R_e_red], ["pink", "black", "cyan", "blue", "red"]):
    draw(re, s, C[c])

ri.varea(x=R_i_red_band_t, y1=[R_spec["i_range"][0]] * 2, y2=[R_spec["i_range"][1]] * 2, fill_color=C["red"])
ri.segment(x0=R_i_red_spikes_t, y0=[3] * len(R_i_red_spikes_t), x1=R_i_red_spikes_t,
           y1=[178] * len(R_i_red_spikes_t), line_color=C["red"], line_width=1.2)
for s, c in zip([R_i_red, R_i_pink, R_i_black, R_i_cyan, R_i_blue], ["red", "pink", "black", "cyan", "blue"]):
    draw(ri, s, C[c])

rt.varea(x=R_t_pink_band_t, y1=R_t_pink_band_lo, y2=R_t_pink_band_hi, fill_color=C["pink"])
bx, by = split(R_t_red_band)
rt.varea(x=bx, y1=[R_spec["t_range"][0]] * len(bx), y2=by, fill_color=C["red"])
rt.varea(x=R_t_red_dip_t, y1=R_t_red_dip_lo, y2=[3.0] * len(R_t_red_dip_t), fill_color=C["red"])
dx_, dy_ = split(R_t_red_dots)
rt.scatter(dx_, dy_, size=6, color=C["red"])
for s, c in zip([R_t_black, R_t_blue, R_t_cyan, R_t_red, R_t_pink], ["black", "blue", "cyan", "red", "pink"]):
    draw(rt, s, C[c])

for p in (lt, rt):
    p.add_layout(Span(location=TJ_REF_ORANGE, dimension="width", line_color="#ffa500", line_width=2))
    p.add_layout(Span(location=TJ_REF_DARK, dimension="width", line_color="#b03030", line_width=1.5))

layout = row(colL, colR)
open("out.html", "w").write(file_html(layout, INLINE))
